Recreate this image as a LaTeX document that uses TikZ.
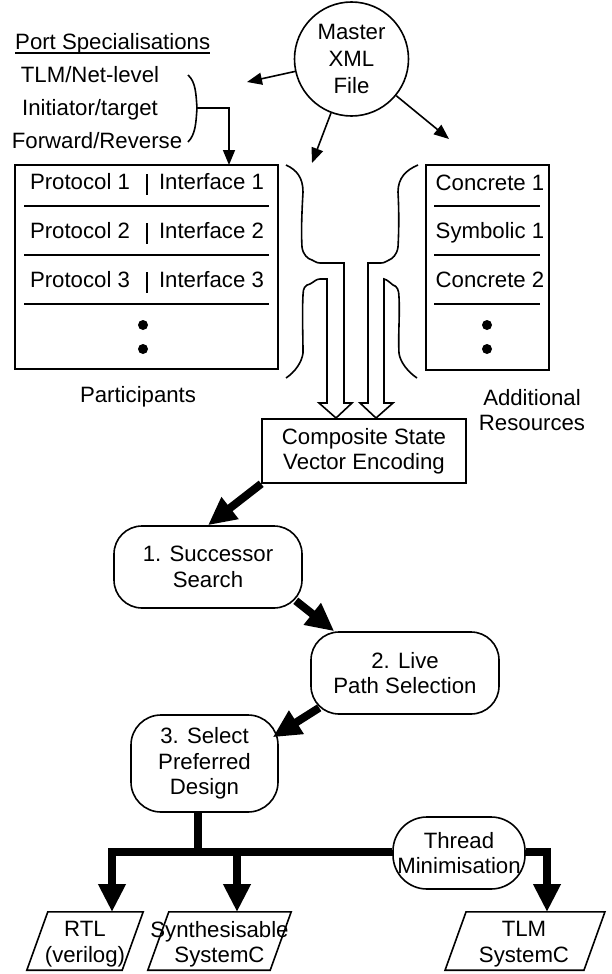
\documentclass[tikz,border=0pt]{standalone}
\usepackage{fontspec}
\setmainfont{Liberation Sans}
\usetikzlibrary{arrows.meta,shapes.geometric}
\begin{document}
\begin{tikzpicture}[x=1pt,y=-1pt,
  every node/.style={font=\fontsize{22.2}{25.5}\selectfont, inner sep=0pt},
  ln/.style={line width=1.6pt},
  box/.style={draw, line width=1.6pt, rectangle},
  rbox/.style={draw, line width=1.6pt, rounded corners=28pt, align=center},
  lbl/.style={anchor=base},
  thinarrow/.style={line width=1.6pt, -{Triangle[length=15pt,width=12pt]}},
  fatarrow/.style={line width=8pt, line join=miter, -{Triangle[length=28pt,width=26pt]}},
  dot/.style={fill=black},
]
\useasboundingbox (0,0) rectangle (611,974);

% Port specialisations
\node[anchor=base west] (ps) at (15,50) {Port Specialisations};
\draw[line width=1.3pt] ([yshift=-3pt]ps.base west) -- ([yshift=-3pt]ps.base east);
\node[lbl] (tlmnet) at (90,82) {TLM/Net-level};
\node[lbl] (initt) at (90,115) {Initiator/target};
\node[lbl] (fwdrev) at (97,148) {Forward/Reverse};
\draw[ln] (188,75) .. controls (196,82) and (196,95) .. (197,108) .. controls (196,121) and (196,134) .. (188,142);
\coordinate (brm) at (197,108);

% Master
\node[circle, draw, line width=1.6pt, minimum size=114pt, align=center, font=\fontsize{22.2}{27}\selectfont] (master) at (351.5,59) {Master\\XML\\File};

% Participants box
\node[box, minimum width=263pt, minimum height=204pt] (part) at (146.5,267) {};
\coordinate (ptop) at (229,165);
\draw[thinarrow] (brm) -| (ptop);
\foreach \i/\y in {1/189,2/238,3/287}{
  \node[lbl] (proto\i) at (80,\y) {Protocol \i};
  \node[lbl] (iface\i) at (211.5,\y) {Interface \i};
  \draw[ln] (147,\y-15) -- (147,\y+6);
}
\foreach \y in {206,255,304}{ \draw[ln] (24,\y) -- (269,\y); }
\fill[dot] (143,325) circle (5pt);
\fill[dot] (143,349) circle (5pt);
\node[lbl] (partlbl) at (138,402) {Participants};

% Resources box
\node[box, minimum width=123pt, minimum height=205pt] (res) at (487.5,267.5) {};
\node[lbl] (con1) at (490,190) {Concrete 1};
\node[lbl] (sym1) at (490,238) {Symbolic 1};
\node[lbl] (con2) at (490,287) {Concrete 2};
\foreach \y in {206,255,304}{ \draw[ln] (434,\y) -- (540,\y); }
\fill[dot] (487,325) circle (5pt);
\fill[dot] (487,349) circle (5pt);
\node[align=center] (reslbl) at (532,410) {Additional\\Resources};

% master arrows
\coordinate (mleft) at (247,82);
\coordinate (mmid) at (312,163);
\coordinate (mright) at (449,139);
\draw[thinarrow] (master) -- (mleft);
\draw[thinarrow] (master) -- (mmid);
\draw[thinarrow] (master) -- (mright);

% funnels with hollow arrows
\draw[ln, line join=miter] (286,165) .. controls (297,170) and (303,178) .. (303,192)
 .. controls (302,210) and (301,230) .. (302,247)
 .. controls (303,255) and (308,259) .. (312,260)
 .. controls (315,261) and (316,263) .. (320,263)
 -- (344,263) -- (344,403) -- (352,403) -- (336,418) -- (319,403) -- (327,403) -- (327,279) -- (320,279)
 .. controls (316,279) and (314,282) .. (310,284)
 .. controls (305,285) and (303,288) .. (303,295)
 .. controls (302,315) and (303,335) .. (303,353)
 .. controls (302,362) and (295,372) .. (286,378);
\draw[ln, line join=miter] (418,165) .. controls (406,170) and (398,178) .. (398,192)
 .. controls (399,210) and (399,230) .. (398,247)
 .. controls (397,255) and (392,259) .. (389,260)
 .. controls (386,261) and (385,263) .. (381,263)
 -- (368,263) -- (368,403) -- (360,403) -- (376,418) -- (393,403) -- (384,403) -- (384,279)
 .. controls (388,280) and (390,283) .. (393,285)
 .. controls (397,286) and (399,290) .. (399,297)
 .. controls (400,315) and (398,335) .. (399,353)
 .. controls (400,362) and (408,372) .. (417,378);

% composite
\node[box, minimum width=204pt, minimum height=64pt, align=center, font=\fontsize{22.2}{25}\selectfont] (comp) at (364,451) {Composite State\\Vector Encoding};

% steps
\node[rbox, minimum width=188pt, minimum height=82pt] (succ) at (208,567) {1. Successor\\Search};
\node[rbox, minimum width=188pt, minimum height=82pt] (live) at (405,673) {2. Live\\Path Selection};
\node[rbox, rounded corners=30pt, minimum width=147pt, minimum height=97pt] (sel) at (204.5,763.5) {3. Select\\Preferred\\Design};
\node[rbox, rounded corners=34pt, minimum width=132pt, minimum height=72pt] (thr) at (459,853) {Thread\\Minimisation};

\draw[fatarrow] (comp.south west) -- (succ.north);
\draw[fatarrow] ([xshift=-7pt,yshift=8pt]succ.south east) -- ([xshift=24pt]live.north west);
\draw[fatarrow] ([xshift=9pt,yshift=7pt]live.south west) -- ([xshift=-6pt,yshift=-23pt]sel.north east);

% outputs
\node[minimum width=95pt, minimum height=58pt, align=center] (rtl) at (85,941) {};
\node[minimum width=122pt, minimum height=58pt, align=center] (syn) at (219.5,941) {};
\node[minimum width=138.5pt, minimum height=58pt, align=center] (tlm) at (525,941) {};
\node[align=center] (rtltxt) at (85,944) {RTL\\(verilog)};
\node[align=center] (syntxt) at (219.5,944) {Synthesisable\\SystemC};
\node[align=center] (tlmtxt) at (524,944) {TLM\\SystemC};
\foreach \n in {rtl,syn,tlm}{
  \draw[ln] ([xshift=-10.5pt]\n.south west) -- ([xshift=10.5pt]\n.north west) -- ([xshift=10.5pt]\n.north east) -- ([xshift=-10.5pt]\n.south east) -- cycle;
}
\coordinate (j) at (198,852);
\coordinate (rtltop) at (112,912);
\coordinate (syntop) at (237,912);
\coordinate (tlmtop) at (547,912);
\draw[line width=8pt] (j |- sel.south) -- (j);
\draw[fatarrow] (thr.west |- j) -| (rtltop);
\draw[fatarrow] (syntop |- j) -- (syntop);
\draw[fatarrow] (thr.east |- j) -| (tlmtop);
\end{tikzpicture}
\end{document}
